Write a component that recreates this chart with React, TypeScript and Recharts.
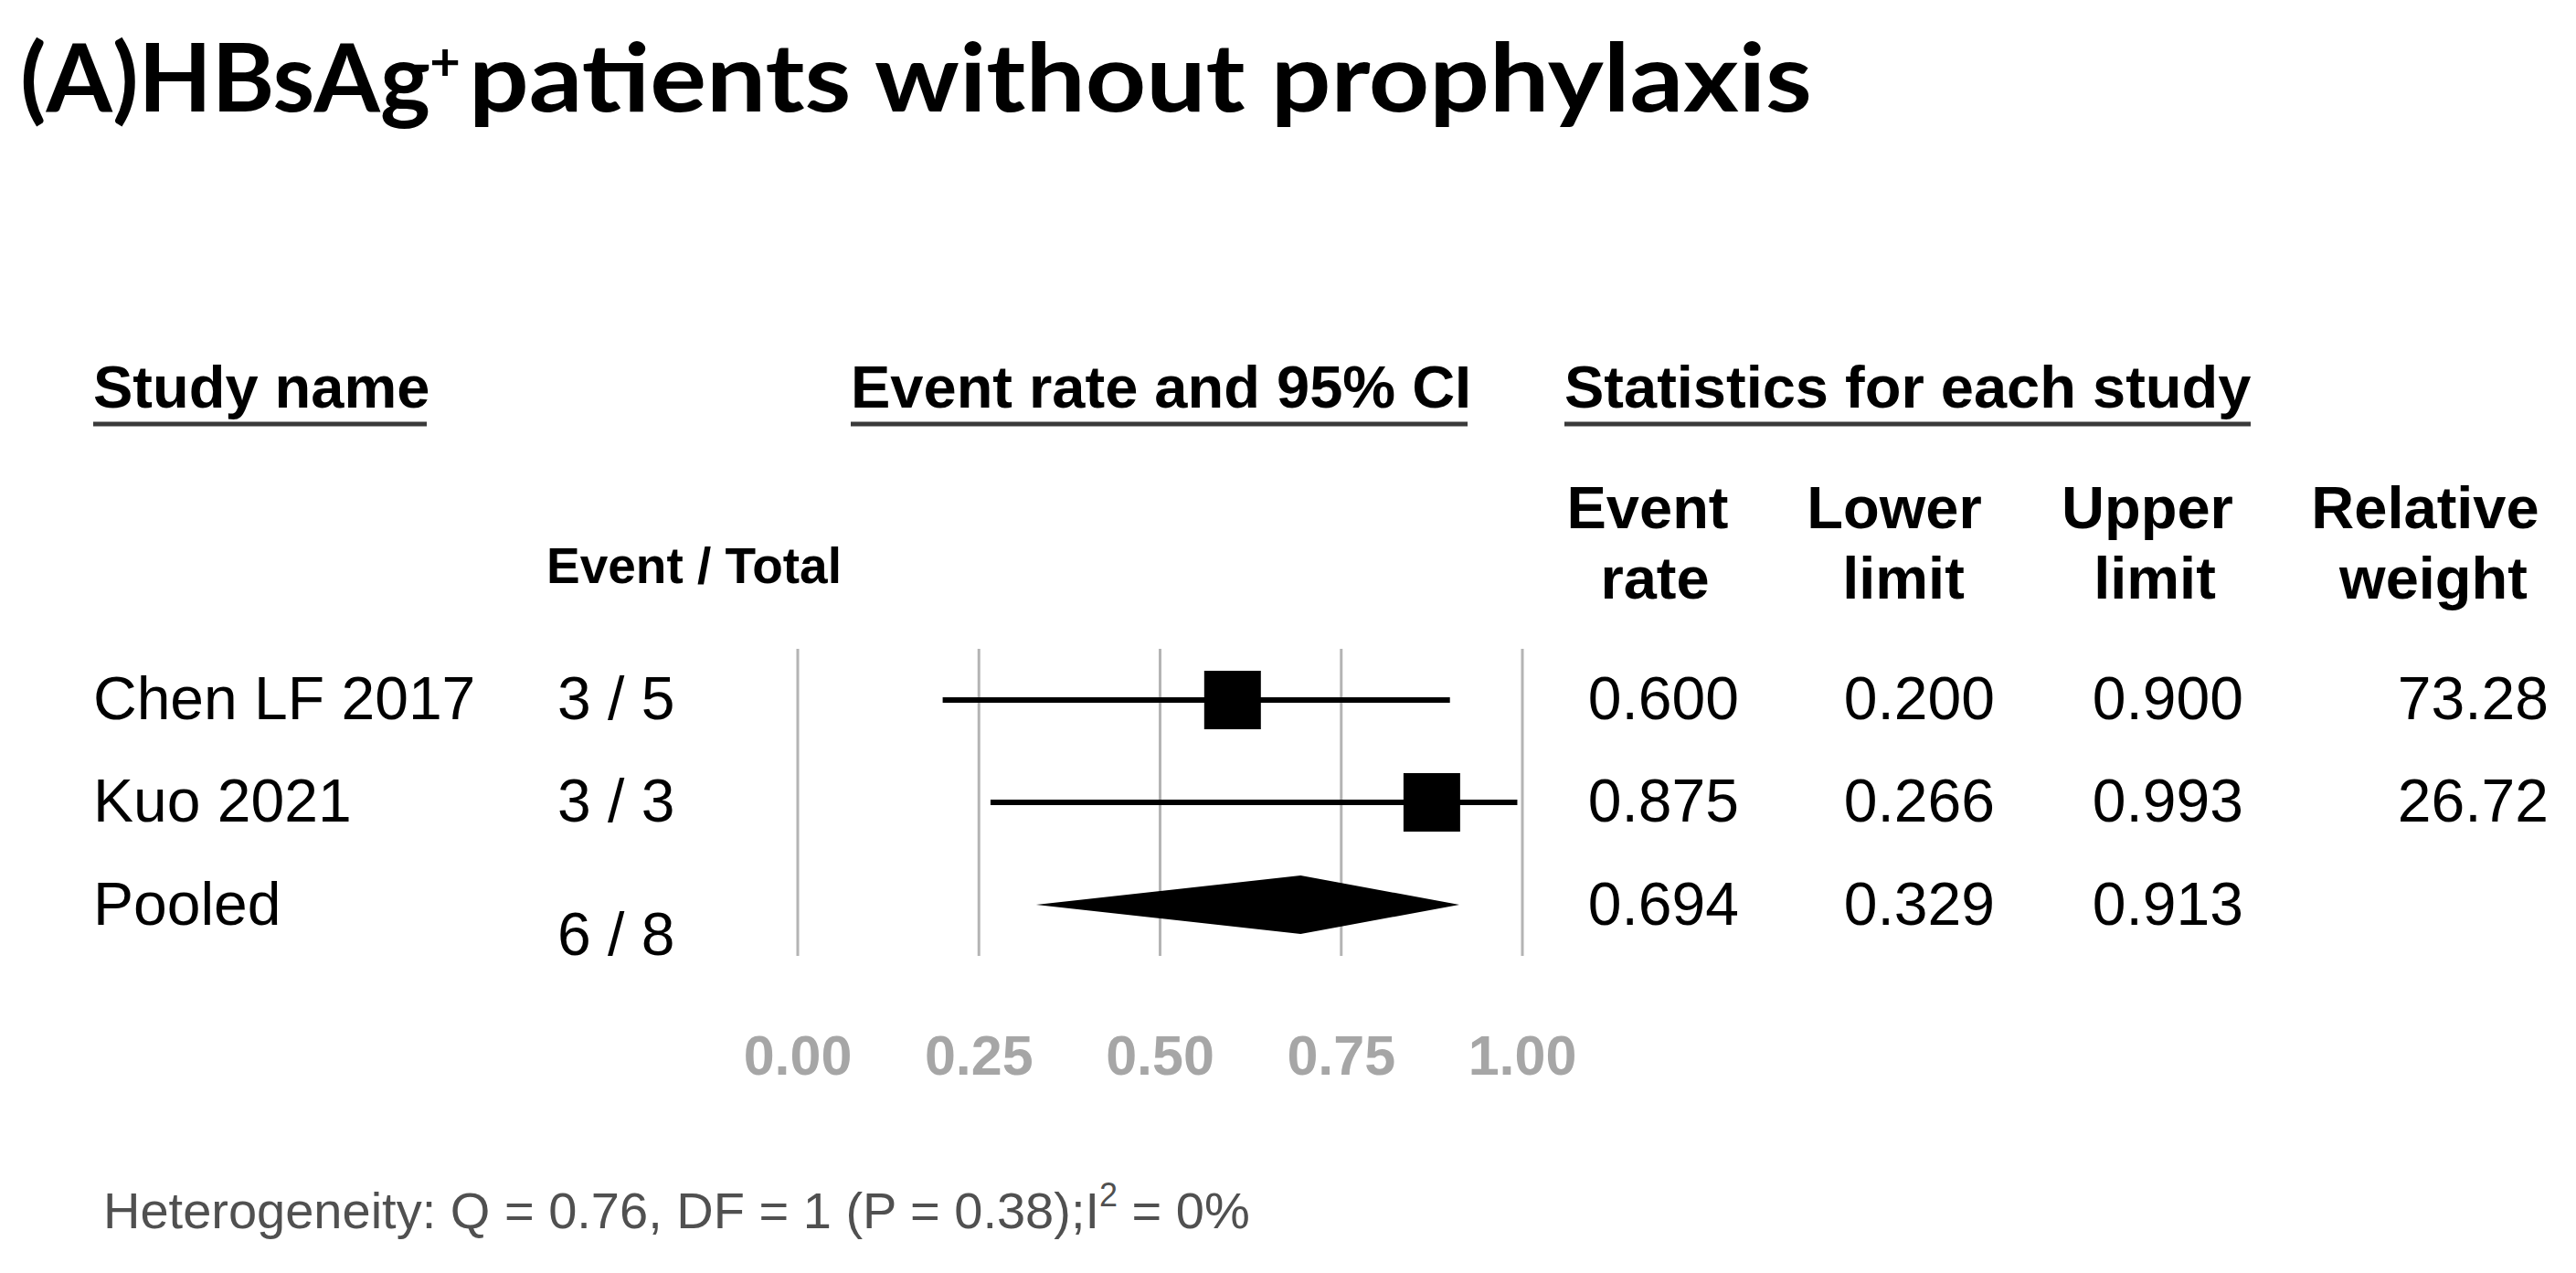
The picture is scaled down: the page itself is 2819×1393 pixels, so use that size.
import React from 'react';
import { ComposedChart, Bar, XAxis, YAxis, CartesianGrid } from 'recharts';

const studies = ['Chen LF 2017', 'Kuo 2021', 'Pooled'];
const eventTotal = ['3 / 5', '3 / 3', '6 / 8'];
const eventRate = [0.6, 0.875, 0.694];
const lowerLimit = [0.2, 0.266, 0.329];
const upperLimit = [0.9, 0.993, 0.913];
const relativeWeight = ['73.28', '26.72', ''];
const xTicks = [0, 0.25, 0.5, 0.75, 1];
const statHeaders = [
  ['Event', 'rate'],
  ['Lower', 'limit'],
  ['Upper', 'limit'],
  ['Relative', 'weight'],
];
const heterogeneity = 'Heterogeneity: Q = 0.76, DF = 1 (P = 0.38);I';

const W = 2819;
const H = 1393;
const ARIAL = '"Liberation Sans", Arial, sans-serif';

const rows = studies.map((name, i) => ({
  name,
  rate: eventRate[i],
  lower: lowerLimit[i],
  upper: upperLimit[i],
  ci: [lowerLimit[i], upperLimit[i]],
  pooled: name === 'Pooled',
}));

// square + CI line for studies, diamond for the pooled row
const CiShape = (props: any) => {
  const { x, y, width, height, payload } = props;
  const cy = y + height / 2;
  const cx = x + (width * (payload.rate - payload.lower)) / (payload.upper - payload.lower);
  if (payload.pooled) {
    const pts = `${x},${cy} ${cx},${cy - height / 2} ${x + width},${cy} ${cx},${cy + height / 2}`;
    return <polygon points={pts} fill="#000" />;
  }
  return (
    <g>
      <line x1={x} x2={x + width} y1={cy} y2={cy} stroke="#000" strokeWidth={6} />
      <rect x={cx - height / 2 + 1} y={y} width={height - 2} height={height} fill="#000" />
    </g>
  );
};

const rowBase = [787, 899, 1012];
const fracBase = [787, 899, 1045];
const statRight = [1903, 2183, 2455, 2789];
const headCenter1 = [1803, 2073, 2350, 2654];
const headCenter2 = [1811, 2083, 2358, 2663];

const Overlay = () => {
  const statCols = [
    eventRate.map((v) => v.toFixed(3)),
    lowerLimit.map((v) => v.toFixed(3)),
    upperLimit.map((v) => v.toFixed(3)),
    relativeWeight,
  ];
  return (
    <svg width={W} height={H} style={{ position: 'absolute', left: 0, top: 0, pointerEvents: 'none' }}>
      {/* title */}
      <g fontFamily="Lato, 'Open Sans', sans-serif" fontWeight={700} fill="#000">
        <text x={22} y={122} fontSize={103} textLength={449} lengthAdjust="spacingAndGlyphs">
          (A)HBsAg
        </text>
        <text x={487} y={88} fontSize={58} textAnchor="middle">+</text>
        <text x={513} y={122} fontSize={103} textLength={1470} lengthAdjust="spacingAndGlyphs">
          patients without prophylaxis
        </text>
      </g>

      {/* section headers */}
      <g fontFamily={ARIAL} fontWeight={700} fontSize={65} fill="#000">
        <text x={102} y={446}>Study name</text>
        <text x={931} y={446}>Event rate and 95% CI</text>
        <text x={1712} y={446}>Statistics for each study</text>
        <text x={598} y={638} fontSize={55}>Event / Total</text>
        {statHeaders.map((h, i) => (
          <g key={h[0] + i} textAnchor="middle">
            <text x={headCenter1[i]} y={578}>{h[0]}</text>
            <text x={headCenter2[i]} y={655}>{h[1]}</text>
          </g>
        ))}
      </g>
      <g stroke="#3a3a3a" strokeWidth={5}>
        <line x1={102} x2={467} y1={464} y2={464} />
        <line x1={931} x2={1606} y1={464} y2={464} />
        <line x1={1712} x2={2463} y1={464} y2={464} />
      </g>

      {/* rows */}
      <g fontFamily={ARIAL} fontSize={66} fill="#000">
        {studies.map((s, i) => (
          <text key={s} x={102} y={rowBase[i]}>{s}</text>
        ))}
        {eventTotal.map((s, i) => (
          <text key={s + i} x={610} y={fracBase[i]}>{s}</text>
        ))}
        {statCols.map((col, c) =>
          col.map((v, i) => (
            <text key={c + '-' + i} x={statRight[c]} y={rowBase[i]} textAnchor="end">{v}</text>
          ))
        )}
      </g>

      {/* heterogeneity */}
      <text x={113} y={1344} fontFamily={ARIAL} fontSize={56} fill="#505050">
        {heterogeneity}
        <tspan fontSize={36} dy={-24}>2</tspan>
        <tspan dy={24}> = 0%</tspan>
      </text>
    </svg>
  );
};

const App = () => (
  <div style={{ position: 'absolute', left: 0, top: 0, width: W, height: H, background: '#fff', fontFamily: ARIAL }}>
    <ComposedChart
      width={W}
      height={H}
      data={rows}
      layout="vertical"
      margin={{ top: 710, right: W - 1666, bottom: 247, left: 873 }}
    >
      <CartesianGrid horizontal={false} stroke="#b4b4b4" strokeWidth={3} />
      <XAxis
        type="number"
        domain={[0, 1]}
        ticks={xTicks}
        interval={0}
        height={100}
        axisLine={false}
        tickLine={false}
        tickMargin={81}
        tickFormatter={(v: number) => v.toFixed(2)}
        tick={{ fill: '#a6a6a6', fontSize: 61, fontWeight: 700, fontFamily: ARIAL }}
      />
      <YAxis type="category" dataKey="name" hide />
      <Bar dataKey="ci" barSize={64} shape={CiShape} isAnimationActive={false} />
    </ComposedChart>
    <Overlay />
  </div>
);

export default App;
